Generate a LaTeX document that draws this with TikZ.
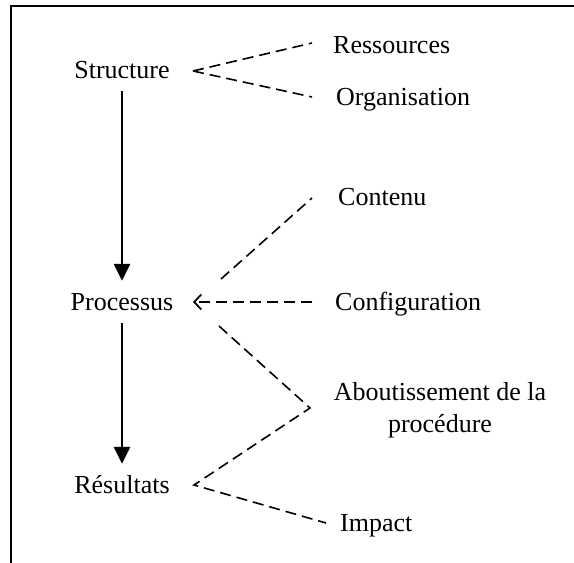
\documentclass[tikz,border=0pt]{standalone}
\usepackage{fontspec}
\setmainfont{Liberation Serif}
\usetikzlibrary{arrows.meta}
\begin{document}
\begin{tikzpicture}[x=1pt,y=-1pt,
  every node/.style={font=\fontsize{26}{32}\selectfont},
  stage/.style={text height=17pt,text depth=0pt,inner xsep=0pt,inner ysep=12.5pt},
  item/.style={text height=17pt,text depth=0pt,inner sep=0pt,anchor=west},
  frameline/.style={line width=1.8pt},
  flow/.style={line width=2.6pt,-{Triangle[length=17pt,width=16pt]}},
  link/.style={line width=1.6pt,dash pattern=on 11pt off 6pt},
  feed/.style={link,-{Straight Barb[length=7pt,width=15pt,line width=1.8pt]}}]
\useasboundingbox (0,0) rectangle (574,563);

% open frame: top and left sides
\draw[frameline] (574,6) -- (11,6) -- (11,563);

% main stages
\node[stage] (s) at (122,70) {Structure};
\node[stage] (p) at (122,302) {Processus};
\node[stage] (r) at (122,485) {Résultats};

% attributes
\node[item] (res)  at (333,45)  {Ressources};
\node[item] (org)  at (336,97)  {Organisation};
\node[item] (cont) at (338,197) {Contenu};
\node[item] (conf) at (335,302) {Configuration};
\node[align=center,inner sep=0pt] (about) at (440,410) {Aboutissement de la\\procédure};
\node[item] (imp)  at (340,523) {Impact};

% junction points of the dashed links
\coordinate (sj) at (193,71);
\coordinate (pu) at (221,279);
\coordinate (pj) at (193,302);
\coordinate (pd) at (219,326);
\coordinate (aj) at (310,408);
\coordinate (rj) at (194,485);

% solid flow
\draw[flow] (s.south) -- (p.north);
\draw[flow] (p.south) -- (r.north);

% dashed links
\draw[link] (sj) -- ([shift={(-21,-2)}]res.west);
\draw[link] (sj) -- ([shift={(-24,0)}]org.west);
\draw[link] (pu) -- ([shift={(-26,1)}]cont.west);
\draw[feed] ([shift={(-23,0)}]conf.west) -- (pj);
\draw[link] (pd) -- (aj) -- (rj) -- ([shift={(-14,0)}]imp.west);
\end{tikzpicture}
\end{document}
